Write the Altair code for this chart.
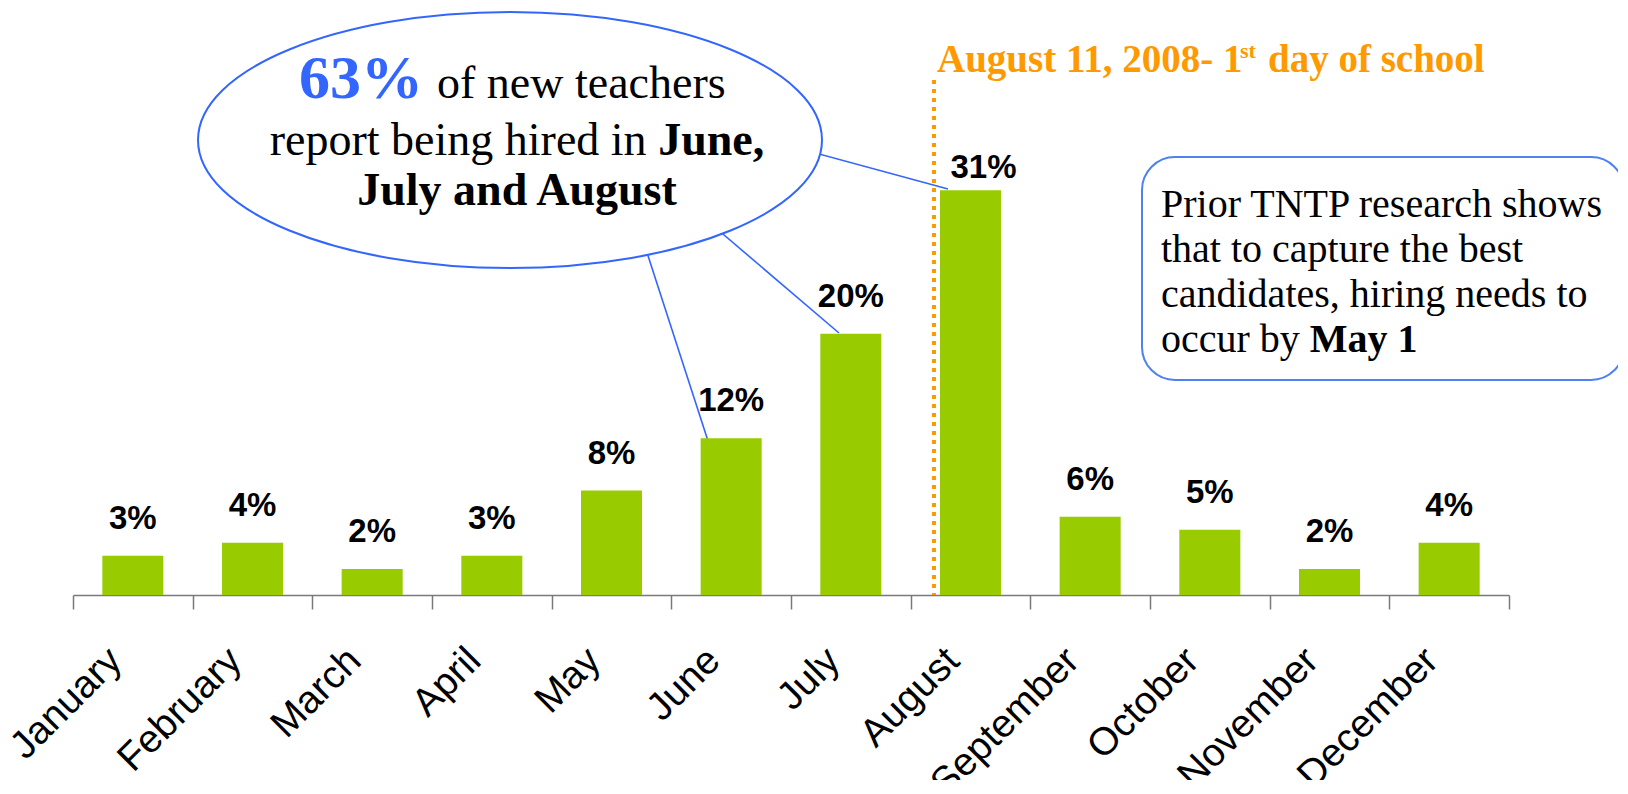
import altair as alt
import pandas as pd

# ---------------- data ----------------
months = ["January", "February", "March", "April", "May", "June",
          "July", "August", "September", "October", "November", "December"]
hired_pct = [3, 4, 2, 3, 8, 12, 20, 31, 6, 5, 2, 4]
pct_labels = [f"{v}%" for v in hired_pct]

title_parts = ["August 11, 2008- 1", "st", "day of school"]
callout_big = "63%"
callout_line1 = "of new teachers"
callout_line2 = ["report being hired in", "June,"]
callout_line3 = "July and August"
note_lines = ["Prior TNTP research shows", "that to capture the best",
              "candidates, hiring needs to", "occur by"]
note_bold = "May 1"

df = pd.DataFrame({"month": months, "pct": hired_pct, "label": pct_labels})
one = pd.DataFrame({"k": [0]})

# ---------------- layout ----------------
W, H = 1436, 555
OX, OY = 73, 40          # page position of the plot origin
PAD = {"left": OX - 8, "top": OY - 8, "right": 1610 - (OX - 8) - W, "bottom": 772 - (OY - 8) - H}


def px(x):
    return x - OX


def py(y):
    return y - OY


SANS = "Liberation Sans, Arial, sans-serif"
SERIF = "Liberation Serif, Times New Roman, serif"
GREEN = "#99CC00"
ORANGE = "#FF9900"
BLUE = "#3366FF"
BOXBLUE = "#4F81F0"
BAR_FRAC = 0.51


def txt(s, x, y, size, weight="normal", color="black", font=SERIF, align="left"):
    return alt.Chart(one).mark_text(
        text=s, fontSize=size, fontWeight=weight, color=color, font=font,
        align=align, baseline="alphabetic"
    ).encode(x=alt.value(px(x)), y=alt.value(py(y)))


def seg(x1, y1, x2, y2, color=BLUE, width=1.6):
    return alt.Chart(one).mark_rule(color=color, strokeWidth=width).encode(
        x=alt.value(px(x1)), y=alt.value(py(y1)),
        x2=alt.value(px(x2)), y2=alt.value(py(y2)))


xscale = alt.Scale(domain=months, paddingInner=0, paddingOuter=0)
yscale = alt.Scale(domain=[0, 42.5], nice=False, zero=True)

base = alt.Chart(df)

bars = base.mark_bar(color=GREEN, width=alt.RelativeBandSize(BAR_FRAC)).encode(
    x=alt.X("month:N", scale=xscale, sort=months,
            axis=alt.Axis(title=None, labelAngle=-45, labelAlign="right",
                          labelBaseline="middle", labelFont=SANS, labelFontSize=39,
                          labelColor="black", labelPadding=45, labelOffset=-18,
                          tickSize=14, tickBand="extent", domainColor="#7a7a7a",
                          tickColor="#7a7a7a", domainWidth=1.5, tickWidth=1.5,
                          labelOverlap=False, labelLimit=400, grid=False)),
    y=alt.Y("pct:Q", scale=yscale, axis=None),
)

labels = base.transform_filter(alt.datum.month != "August").mark_text(
    font=SANS, fontSize=33, fontWeight="bold", color="black",
    baseline="alphabetic", dy=-27
).encode(x=alt.X("month:N", sort=months), y="pct:Q", text="label:N")

label_aug = base.transform_filter(alt.datum.month == "August").mark_text(
    font=SANS, fontSize=33, fontWeight="bold", color="black",
    baseline="alphabetic", dy=-12, dx=13
).encode(x=alt.X("month:N", sort=months), y="pct:Q", text="label:N")

# pointer lines from the callout ellipse to the June, July and August bars
pointers = [
    seg(760, 138, 948, 189),
    seg(640, 231, 709, 444),
    seg(710, 223, 839, 333),
]

K = 128 / 312
c = 0.5523
ELLIPSE = (f"M -1 0 C -1 {-c*K:.4f} {-c:.4f} {-K:.4f} 0 {-K:.4f} "
           f"C {c:.4f} {-K:.4f} 1 {-c*K:.4f} 1 0 "
           f"C 1 {c*K:.4f} {c:.4f} {K:.4f} 0 {K:.4f} "
           f"C {-c:.4f} {K:.4f} -1 {c*K:.4f} -1 0 Z")

ellipse = alt.Chart(one).mark_point(
    shape=ELLIPSE, size=(2 * 312) ** 2, filled=True, fill="white",
    stroke=BLUE, strokeWidth=2, opacity=1
).encode(x=alt.value(px(510)), y=alt.value(py(140)))

box = alt.Chart(one).mark_rect(
    cornerRadius=33, fill="white", stroke=BOXBLUE, strokeWidth=2
).encode(x=alt.value(px(1142)), x2=alt.value(px(1624)),
         y=alt.value(py(157)), y2=alt.value(py(380)))

# callout text
ctr = 517
fs = 46
w_l2a = 8.443 * fs
w_l2b = 2.306 * fs
start2 = ctr - (w_l2a + w_l2b) / 2

callout = [
    txt(callout_big, 423, 98, 62, "bold", BLUE, align="right"),
    txt(callout_line1, 437, 98, fs),
    txt(callout_line2[0], start2, 155, fs),
    txt(callout_line2[1], start2 + w_l2a, 155, fs, "bold"),
    txt(callout_line3, ctr, 205, fs, "bold", align="center"),
]

nfs = 40
note = [txt(s, 1161, 216.5 + 45 * i, nfs) for i, s in enumerate(note_lines)]
note.append(txt(note_bold, 1161 + 3.721 * nfs, 216.5 + 45 * 3, nfs, "bold"))

school_rule = alt.Chart(one).mark_rule(
    color=ORANGE, strokeWidth=4, strokeDash=[4, 5], xOffset=-6
).encode(x=alt.XDatum("August", type="nominal", bandPosition=(1 - BAR_FRAC) / 2),
         y=alt.value(py(80)), y2=alt.value(H))

title = [
    txt(title_parts[0], 937, 72, 39, "bold", ORANGE),
    txt(title_parts[1], 1240, 58, 22, "bold", ORANGE),
    txt(title_parts[2], 1268, 72, 39, "bold", ORANGE),
]

chart = alt.layer(
    *pointers, bars, labels, label_aug, ellipse, box, *callout, *note,
    school_rule, *title
).properties(
    width=W, height=H, autosize=alt.AutoSizeParams(type="none"), padding=PAD,
    background="white"
).configure_view(stroke=None)

chart.save("out.html", embed_options={"renderer": "svg", "actions": False})
